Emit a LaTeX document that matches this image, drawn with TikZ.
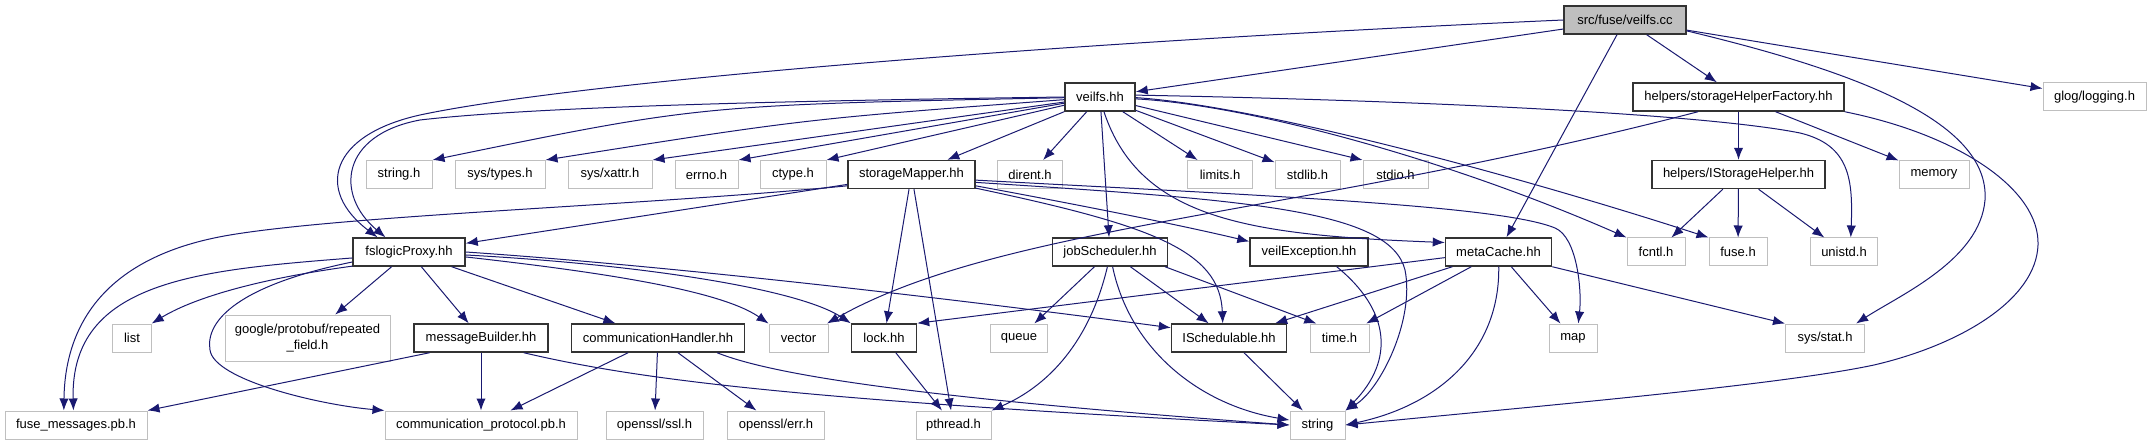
\documentclass[tikz,border=0pt]{standalone}
\usepackage{fontspec}
\setmainfont{Liberation Sans}
\usetikzlibrary{arrows.meta,calc}
\definecolor{edgeblue}{HTML}{191970}
\definecolor{extgray}{HTML}{BFBFBF}
\definecolor{rootfill}{HTML}{BFBFBF}
\begin{document}
\begin{tikzpicture}[x=0.75pt,y=-0.75pt,
 every node/.style={font=\fontsize{9.75}{11.5}\selectfont, inner sep=0pt, minimum height=21pt, align=center},
 wd/.style={minimum width=#1*0.75pt},
 extbox/.style={draw=extgray, line width=0.75pt, fill=white},
 docbox/.style={draw=black!80, line width=1.1pt, fill=white},
 rootbox/.style={draw=black!80, line width=1.1pt, fill=rootfill},
 dep/.style={draw=edgeblue, line width=0.75pt, -{Latex[length=9pt,width=7pt]}}
]
\fill[white] (0,0) rectangle (2151,445);
\useasboundingbox (0,0) rectangle (2151,445);
% row 0
\node[rootbox,wd=122] (cc) at (1625,20) {src/fuse/veilfs.cc};
% row 1
\node[docbox,wd=70] (vhh) at (1100,97) {veilfs.hh};
\node[docbox,wd=211] (shf) at (1738.5,97) {helpers/storageHelperFactory.hh};
\node[extbox,wd=103] (glog) at (2094.5,97) {glog/logging.h};
% row 2
\node[extbox,wd=66] (stringh) at (399,174.5) {string.h};
\node[extbox,wd=90] (systypes) at (500,174.5) {sys/types.h};
\node[extbox,wd=84] (sysxattr) at (610,174.5) {sys/xattr.h};
\node[extbox,wd=63] (errno) at (706.5,174.5) {errno.h};
\node[extbox,wd=66] (ctype) at (793,174.5) {ctype.h};
\node[docbox,wd=127] (smap) at (911.5,174.5) {storageMapper.hh};
\node[extbox,wd=65.5] (dirent) at (1030,174.5) {dirent.h};
\node[extbox,wd=64.5] (limits) at (1220,174.5) {limits.h};
\node[extbox,wd=65] (stdlib) at (1307.5,174.5) {stdlib.h};
\node[extbox,wd=65] (stdio) at (1395.5,174.5) {stdio.h};
\node[docbox,wd=173] (ish) at (1738.5,174.5) {helpers/IStorageHelper.hh};
\node[extbox,wd=70] (memory) at (1934,174.5) {memory};
% row 3
\node[docbox,wd=112] (fsl) at (409,252) {fslogicProxy.hh};
\node[docbox,wd=115] (jobs) at (1110,252) {jobScheduler.hh};
\node[docbox,wd=118] (vexc) at (1309,252) {veilException.hh};
\node[docbox,wd=106] (mc) at (1498.5,252) {metaCache.hh};
\node[extbox,wd=58] (fcntl) at (1656,252) {fcntl.h};
\node[extbox,wd=58] (fuse) at (1738,252) {fuse.h};
\node[extbox,wd=67] (unistd) at (1844,252) {unistd.h};
% row 4
\node[extbox,wd=38.5] (list) at (132,338) {list};
\node[extbox,wd=165,minimum height=34.5pt] (google) at (307.5,338) {google/protobuf/repeated\\\_field.h};
\node[docbox,wd=134] (mb) at (481,338) {messageBuilder.hh};
\node[docbox,wd=173] (ch) at (658,338) {communicationHandler.hh};
\node[extbox,wd=59] (vector) at (798.5,338) {vector};
\node[docbox,wd=65] (lock) at (884,338) {lock.hh};
\node[extbox,wd=57] (queue) at (1019,338) {queue};
\node[docbox,wd=115] (isch) at (1229,338) {ISchedulable.hh};
\node[extbox,wd=59] (timeh) at (1339.5,338) {time.h};
\node[extbox,wd=48] (map) at (1573,338) {map};
\node[extbox,wd=79] (sysstat) at (1825,338) {sys/stat.h};
% row 5
\node[extbox,wd=142] (fmsg) at (76,425) {fuse\_messages.pb.h};
\node[extbox,wd=192] (cprot) at (481,425) {communication\_protocol.pb.h};
\node[extbox,wd=97] (ssl) at (654.5,425) {openssl/ssl.h};
\node[extbox,wd=96.5] (err) at (776,425) {openssl/err.h};
\node[extbox,wd=75] (pthread) at (953.5,425) {pthread.h};
\node[extbox,wd=55] (string) at (1317.5,425) {string};

% ---- edges from veilfs.cc
\draw[dep] (cc) -- (vhh);
\draw[dep] (cc.west) .. controls (1000,45) and (560,85) .. (420,115) .. controls (330,135) and (315,190) .. (fsl.155);
\draw[dep] (cc) -- (shf);
\draw[dep] (cc) -- (glog);
\draw[dep] (cc) -- (mc);
\draw[dep] (cc.-10) .. controls (1850,70) and (1990,120) .. (1985,200) .. controls (1980,260) and (1900,295) .. (sysstat.25);
% ---- edges from veilfs.hh
\draw[dep] (vhh.west) .. controls (850,100) and (550,105) .. (420,120) .. controls (340,135) and (335,195) .. (fsl.148);
\draw[dep] (vhh) .. controls (700,105) .. (stringh.north east);
\draw[dep] (vhh) .. controls (805,119) .. (systypes.north east);
\draw[dep] (vhh) -- (sysxattr.north east);
\draw[dep] (vhh) -- (errno.north east);
\draw[dep] (vhh) -- (ctype.north east);
\draw[dep] (vhh) -- (smap);
\draw[dep] (vhh) -- (dirent);
\draw[dep] (vhh) -- (limits);
\draw[dep] (vhh) -- (stdlib);
\draw[dep] (vhh) -- (stdio.north west);
\draw[dep] (vhh) -- (jobs);
\draw[dep] (vhh.-75) .. controls (1140,220) and (1250,235) .. (mc.170);
\draw[dep] (vhh.-3) .. controls (1250,105) and (1450,160) .. (fcntl.north west);
\draw[dep] (vhh.-1) .. controls (1250,105) and (1500,170) .. (fuse.north west);
\draw[dep] (vhh.3) .. controls (1400,100) and (1700,113) .. (1800,133) .. controls (1850,145) and (1853,180) .. (unistd.65);
% ---- storageHelperFactory
\draw[dep] (shf) -- (ish);
\draw[dep] (shf) -- (memory);
\draw[dep] (shf.200) .. controls (1300,215) and (1000,225) .. (vector.27);
\draw[dep] (shf.south east) .. controls (1960,135) and (2040,190) .. (2038,245) .. controls (2036,300) and (1960,345) .. (1874,365) .. controls (1780,385) and (1550,405) .. (string.east);
% ---- IStorageHelper
\draw[dep] (ish) -- (fcntl);
\draw[dep] (ish) -- (fuse);
\draw[dep] (ish) -- (unistd);
% ---- fslogicProxy
\draw[dep] (fsl.194) .. controls (250,280) and (190,300) .. (list.north east);
\draw[dep] (fsl) -- (google);
\draw[dep] (fsl) -- (mb);
\draw[dep] (fsl) -- (ch);
\draw[dep] (fsl.-5) .. controls (600,272) and (720,290) .. (vector.north west);
\draw[dep] (fsl.-3) .. controls (650,265) and (800,290) .. (lock.north west);
\draw[dep] (fsl.east) .. controls (700,268) and (1000,305) .. (isch.170);
\draw[dep] (fsl.186) .. controls (200,270) and (70,280) .. (fmsg.100);
\draw[dep] (fsl.190) .. controls (240,285) and (205,320) .. (210,350) .. controls (214,380) and (320,405) .. (cprot.north west);
% ---- storageMapper
\draw[dep] (smap) -- (fsl);
\draw[dep] (smap.190) .. controls (650,205) and (350,215) .. (230,235) .. controls (110,255) and (65,320) .. (fmsg.130);
\draw[dep] (smap) -- (lock);
\draw[dep] (smap) -- (pthread);
\draw[dep] (smap.-10) .. controls (1080,205) and (1180,225) .. (vexc.170);
\draw[dep] (smap.-12) .. controls (1150,225) and (1220,250) .. (isch.113);
\draw[dep] (smap.-5) .. controls (1250,195) and (1500,205) .. (1555,228) .. controls (1577,237) and (1582,290) .. (map.70);
\draw[dep] (smap.-7) .. controls (1250,200) and (1390,210) .. (1405,270) .. controls (1415,320) and (1380,390) .. (string.north east);
% ---- jobScheduler
\draw[dep] (jobs) -- (queue);
\draw[dep] (jobs.-100) .. controls (1090,340) and (1050,385) .. (pthread.north east);
\draw[dep] (jobs.-80) .. controls (1130,350) and (1200,405) .. (string.170);
\draw[dep] (jobs) -- (isch);
\draw[dep] (jobs.-15) -- (timeh.148);
% ---- veilException
\draw[dep] (vexc.-28) .. controls (1390,310) and (1395,360) .. (string.north east);
% ---- metaCache
\draw[dep] (mc.186) -- (lock.north east);
\draw[dep] (mc) -- (isch);
\draw[dep] (mc) -- (timeh);
\draw[dep] (mc) -- (map);
\draw[dep] (mc) .. controls (1500,350) and (1440,405) .. (string.east);
\draw[dep] (mc.south east) -- (sysstat.north west);
% ---- others
\draw[dep] (isch) -- (string);
\draw[dep] (lock) -- (pthread);
\draw[dep] (mb.196) -- (fmsg.north east);
\draw[dep] (mb) -- (cprot);
\draw[dep] (mb.-19) .. controls (640,380) and (800,400) .. (string.west);
\draw[dep] (ch) -- (cprot);
\draw[dep] (ch) -- (ssl);
\draw[dep] (ch) -- (err);
\draw[dep] (ch.-14) .. controls (780,378) and (950,400) .. (string.west);
\end{tikzpicture}
\end{document}
